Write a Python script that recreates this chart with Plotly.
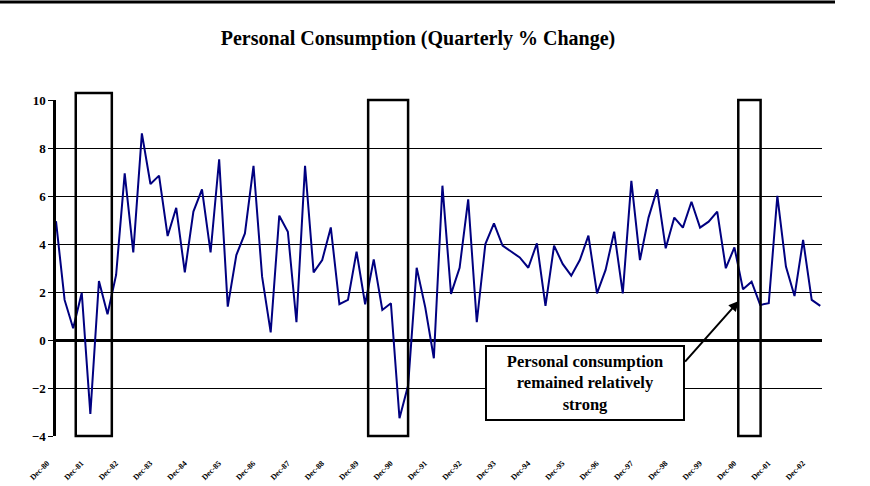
import plotly.graph_objects as go

# quarterly % change, Dec-80 .. Mar-03
quarter = list(range(90))
pct_change = [
    4.95, 1.67, 0.49, 1.97, -3.08, 2.46, 1.07, 2.71, 6.94, 3.65,
    8.61, 6.50, 6.85, 4.33, 5.51, 2.82, 5.35, 6.28, 3.65, 7.53,
    1.39, 3.54, 4.44, 7.26, 2.64, 0.32, 5.18, 4.51, 0.74, 7.26,
    2.82, 3.33, 4.69, 1.49, 1.67, 3.68, 1.49, 3.36, 1.25, 1.53,
    -3.26, -1.90, 3.01, 1.36, -0.76, 6.43, 1.92, 3.01, 5.86, 0.74,
    4.00, 4.86, 3.93, 3.68, 3.44, 3.01, 4.03, 1.42, 3.93, 3.17,
    2.68, 3.33, 4.35, 1.94, 2.92, 4.51, 1.94, 6.63, 3.33, 5.10,
    6.28, 3.82, 5.10, 4.68, 5.76, 4.68, 4.93, 5.35, 2.99, 3.86,
    2.11, 2.43, 1.46, 1.53, 6.01, 3.06, 1.83, 4.17, 1.67, 1.42,
]
tick_pos = list(range(0, 89, 4))
tick_text = ["Dec-%02d" % (y % 100) for y in range(1980, 2003)]

# recession boxes (quarter index start, end)
recessions = [(2.3, 6.5, 1.021), (36.35, 41.0, 1.0), (79.45, 82.05, 1.0)]

serif = "Liberation Serif"

fig = go.Figure()
fig.add_trace(go.Scatter(x=quarter, y=pct_change, mode="lines",
                         line=dict(color="#000080", width=2),
                         hoverinfo="skip", showlegend=False))

for x0, x1, top in recessions:
    fig.add_shape(type="rect", xref="x", yref="paper", x0=x0, x1=x1, y0=0, y1=top,
                  line=dict(color="black", width=2.5), fillcolor="rgba(0,0,0,0)")

# thick rule across the top of the page
fig.add_shape(type="line", xref="paper", yref="paper", x0=-56 / 766, x1=779 / 766,
              y0=1 + 98 / 336, y1=1 + 98 / 336, line=dict(color="black", width=3))

# call-out box and its arrow
fig.add_annotation(x=61.6, y=-1.79, xref="x", yref="y", showarrow=False,
                   text="<b>Personal consumption<br>remained relatively<br>strong</b>",
                   font=dict(family=serif, size=16.5, color="black"),
                   width=190, height=66, bgcolor="white",
                   bordercolor="black", borderwidth=2, borderpad=3)
fig.add_annotation(x=79.5, y=1.62, ax=73.1, ay=-0.96, xref="x", yref="y",
                   axref="x", ayref="y", text="", showarrow=True,
                   arrowhead=2, arrowsize=1, arrowwidth=2, arrowcolor="black")

fig.update_layout(
    width=870, height=486,
    margin=dict(l=56, r=48, t=100, b=50),
    paper_bgcolor="white", plot_bgcolor="white",
    title=dict(text="<b>Personal Consumption (Quarterly % Change)</b>",
               x=418 / 870, xanchor="center", y=1 - 38 / 486, yanchor="middle",
               font=dict(family=serif, size=20, color="black")),
    xaxis=dict(range=[0, 89.2], tickvals=tick_pos, ticktext=tick_text,
               tickangle=-45, ticks="", showgrid=False, zeroline=False, showline=False,
               ticklabelstandoff=20, ticklabelshift=-9, automargin=False,
               tickfont=dict(family=serif, size=8, color="black", weight="bold")),
    xaxis2=dict(range=[0, 89.2], overlaying="x", anchor="free", position=96 / 336,
                tickvals=tick_pos, showticklabels=False, ticks="outside",
                ticklen=4, tickwidth=1.5, tickcolor="black", automargin=False,
                showgrid=False, zeroline=False, showline=False),
    yaxis=dict(range=[-4, 10], dtick=2, showgrid=True, gridcolor="black", gridwidth=1,
               zeroline=True, zerolinecolor="black", zerolinewidth=2.5,
               showline=True, linecolor="black", linewidth=2.5, automargin=False,
               ticks="outside", ticklen=5, tickcolor="black",
               tickfont=dict(family=serif, size=13, color="black", weight="bold")),
)

fig.write_html("out.html", config={"displayModeBar": False},
               post_script="document.body.style.margin = '0';")
